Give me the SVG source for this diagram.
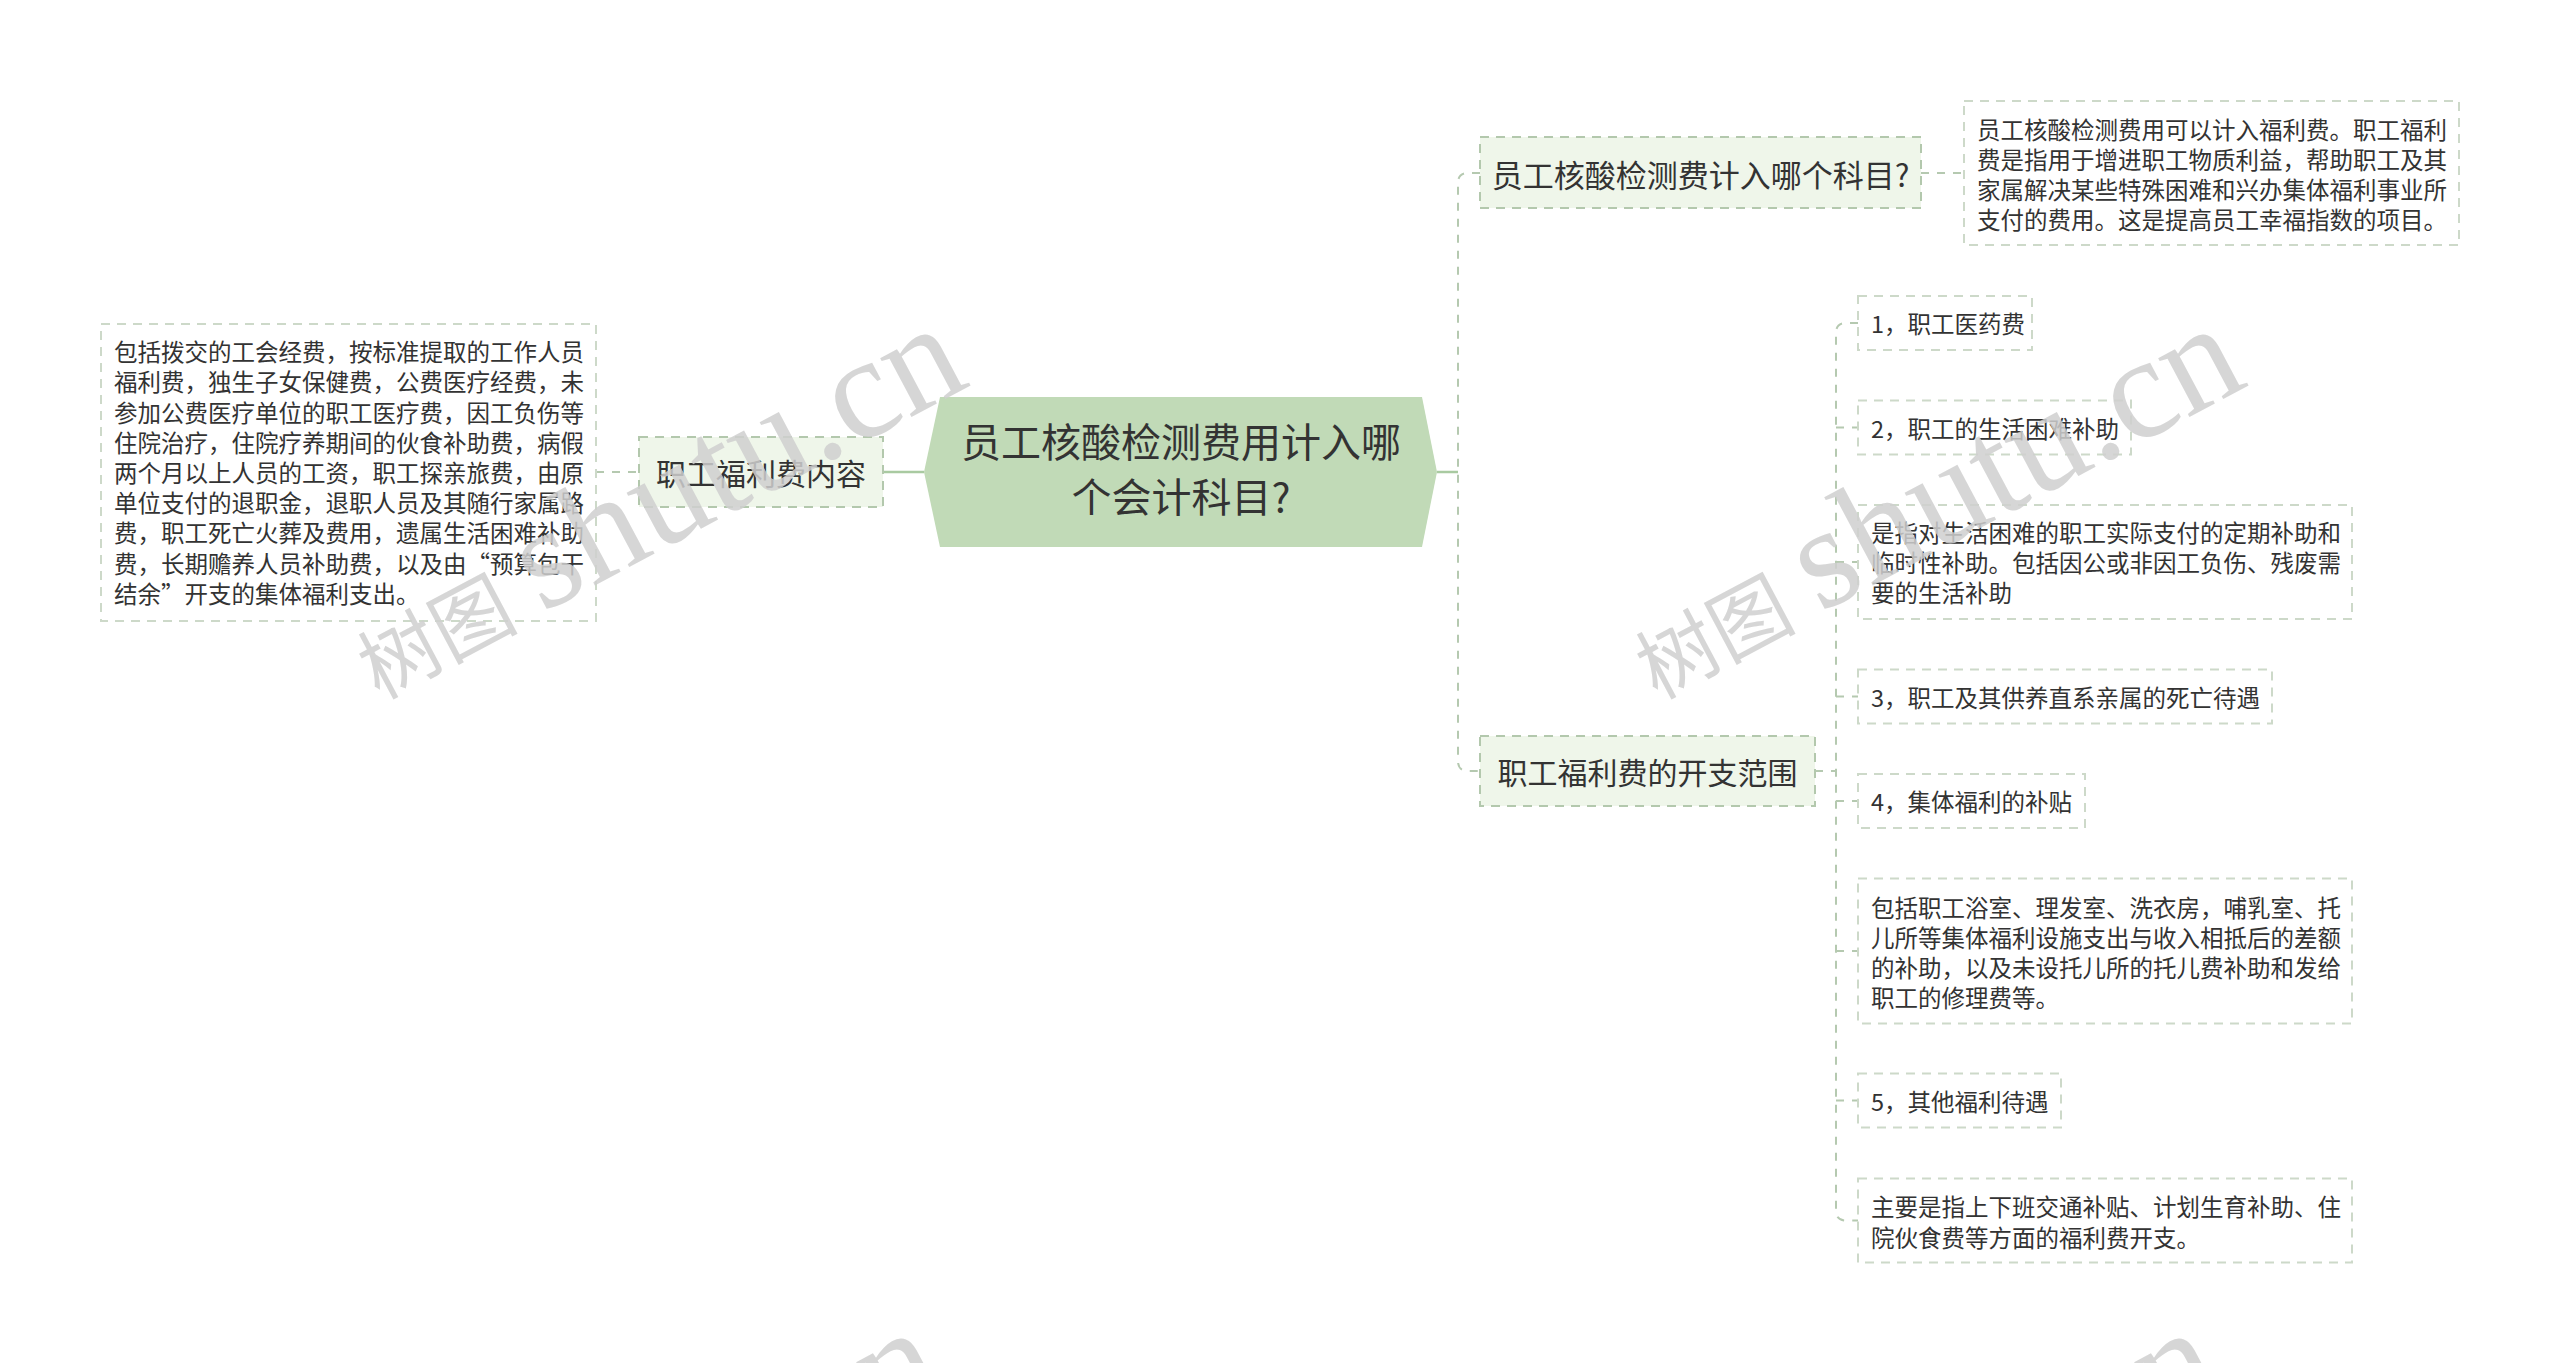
<svg xmlns="http://www.w3.org/2000/svg" width="2560" height="1363" viewBox="0 0 2560 1363">
<style>
.t{font-family:"Noto Sans CJK SC","Noto Sans",sans-serif;fill:#333333}
.c{font-size:40px;text-anchor:middle}
.m{font-size:30px;text-anchor:middle}
.d{font-size:23.5px}
.topic{fill:#eff6ea;stroke:#b3c8ad;stroke-width:2;stroke-dasharray:9 7}
.box{fill:#ffffff;stroke:#cdd9c9;stroke-width:2;stroke-dasharray:9 7}
.lk{fill:none;stroke:#b5c9b0;stroke-width:2;stroke-dasharray:8 8}
.ls{fill:none;stroke:#a9caa1;stroke-width:2.5}
.wm{font-family:"Liberation Serif","Noto Sans CJK SC",serif;fill:#cfcfcf;fill-opacity:0.85}
.wc{font-size:80px}
.wl{font-size:145px}
</style>
<rect x="0" y="0" width="2560" height="1363" fill="#ffffff"/>
<g id="connectors">
<path class="ls" d="M883,472 H924"/>
<path class="ls" d="M1437,472 H1458"/>
<path class="lk" d="M596,472 H639"/>
<path class="lk" d="M1480,173 H1468 Q1458,173 1458,183 V761 Q1458,771 1468,771 H1480"/>
<path class="lk" d="M1921,173 H1964"/>
<path class="lk" d="M1815,771 H1836"/>
<path class="lk" d="M1858,323 H1846 Q1836,323 1836,333 V1210.5 Q1836,1220.5 1846,1220.5 H1858"/>
<path class="lk" d="M1836,427.5 H1858 M1836,562 H1858 M1836,696.5 H1858 M1836,801 H1858 M1836,951 H1858 M1836,1100.5 H1858"/>
</g>
<g id="center">
<polygon points="924,472 940,397 1422,397 1437,472 1422,547 940,547" fill="#c1dab7"/>
<text class="t c" x="1181" y="440" dominant-baseline="central">员工核酸检测费用计入哪</text>
<text class="t c" x="1181" y="495" dominant-baseline="central">个会计科目?</text>
</g>
<g id="left-topic">
<rect class="topic" x="639" y="437" width="244" height="70"/>
<text class="t m" x="761" y="472" dominant-baseline="central">职工福利费内容</text>
</g>
<g id="left-detail">
<rect class="box" x="101" y="324" width="495" height="297"/>
<text class="t d" dominant-baseline="central">
<tspan x="114" y="351.2">包括拨交的工会经费，按标准提取的工作人员</tspan>
<tspan x="114" y="381.4">福利费，独生子女保健费，公费医疗经费，未</tspan>
<tspan x="114" y="411.6">参加公费医疗单位的职工医疗费，因工负伤等</tspan>
<tspan x="114" y="441.8">住院治疗，住院疗养期间的伙食补助费，病假</tspan>
<tspan x="114" y="472">两个月以上人员的工资，职工探亲旅费，由原</tspan>
<tspan x="114" y="502.2">单位支付的退职金，退职人员及其随行家属路</tspan>
<tspan x="114" y="532.4">费，职工死亡火葬及费用，遗属生活困难补助</tspan>
<tspan x="114" y="562.6">费，长期赡养人员补助费，以及由“预算包干</tspan>
<tspan x="114" y="592.8">结余”开支的集体福利支出。</tspan>
</text>
</g>
<g id="topic-1">
<rect class="topic" x="1480" y="137" width="441" height="71"/>
<text class="t m" x="1700.5" y="173" style="font-size:31px" dominant-baseline="central">员工核酸检测费计入哪个科目?</text>
</g>
<g id="topic-1-detail">
<rect class="box" x="1964" y="101" width="495" height="144"/>
<text class="t d" dominant-baseline="central">
<tspan x="1977" y="128.7">员工核酸检测费用可以计入福利费。职工福利</tspan>
<tspan x="1977" y="158.9">费是指用于增进职工物质利益，帮助职工及其</tspan>
<tspan x="1977" y="189.1">家属解决某些特殊困难和兴办集体福利事业所</tspan>
<tspan x="1977" y="219.3">支付的费用。这是提高员工幸福指数的项目。</tspan>
</text>
</g>
<g id="topic-2">
<rect class="topic" x="1480" y="736" width="335" height="70"/>
<text class="t m" x="1647.5" y="771" dominant-baseline="central">职工福利费的开支范围</text>
</g>
<g id="item-1">
<rect class="box" x="1858" y="296" width="174" height="54"/>
<text class="t d" x="1871" y="323" dominant-baseline="central">1，职工医药费</text>
</g>
<g id="item-2">
<rect class="box" x="1858" y="400.5" width="273" height="54"/>
<text class="t d" x="1871" y="427.5" dominant-baseline="central">2，职工的生活困难补助</text>
</g>
<g id="item-2-detail">
<rect class="box" x="1858" y="505" width="494" height="114"/>
<text class="t d" dominant-baseline="central">
<tspan x="1871" y="532">是指对生活困难的职工实际支付的定期补助和</tspan>
<tspan x="1871" y="562.2">临时性补助。包括因公或非因工负伤、残废需</tspan>
<tspan x="1871" y="592.4">要的生活补助</tspan>
</text>
</g>
<g id="item-3">
<rect class="box" x="1858" y="669.5" width="414" height="54"/>
<text class="t d" x="1871" y="696.5" dominant-baseline="central">3，职工及其供养直系亲属的死亡待遇</text>
</g>
<g id="item-4">
<rect class="box" x="1858" y="774" width="227" height="54"/>
<text class="t d" x="1871" y="801" dominant-baseline="central">4，集体福利的补贴</text>
</g>
<g id="item-4-detail">
<rect class="box" x="1858" y="878.5" width="494" height="145"/>
<text class="t d" dominant-baseline="central">
<tspan x="1871" y="906.7">包括职工浴室、理发室、洗衣房，哺乳室、托</tspan>
<tspan x="1871" y="936.9">儿所等集体福利设施支出与收入相抵后的差额</tspan>
<tspan x="1871" y="967.1">的补助，以及未设托儿所的托儿费补助和发给</tspan>
<tspan x="1871" y="997.3">职工的修理费等。</tspan>
</text>
</g>
<g id="item-5">
<rect class="box" x="1858" y="1073.5" width="203" height="54"/>
<text class="t d" x="1871" y="1100.5" dominant-baseline="central">5，其他福利待遇</text>
</g>
<g id="item-5-detail">
<rect class="box" x="1858" y="1178.5" width="494" height="84"/>
<text class="t d" dominant-baseline="central">
<tspan x="1871" y="1206.4">主要是指上下班交通补贴、计划生育补助、住</tspan>
<tspan x="1871" y="1236.6">院伙食费等方面的福利费开支。</tspan>
</text>
</g>
<g id="watermarks">
<text class="wm" transform="translate(379,700) rotate(-28)"><tspan class="wc">树图</tspan><tspan class="wl" dx="25">shutu.cn</tspan></text>
<text class="wm" transform="translate(1657,700) rotate(-28)"><tspan class="wc">树图</tspan><tspan class="wl" dx="25">shutu.cn</tspan></text>
<text class="wm" transform="translate(355,1704) rotate(-28)"><tspan class="wc">树图</tspan><tspan class="wl" dx="25">shutu.cn</tspan></text>
<text class="wm" transform="translate(1633,1704) rotate(-28)"><tspan class="wc">树图</tspan><tspan class="wl" dx="25">shutu.cn</tspan></text>
</g>
</svg>
